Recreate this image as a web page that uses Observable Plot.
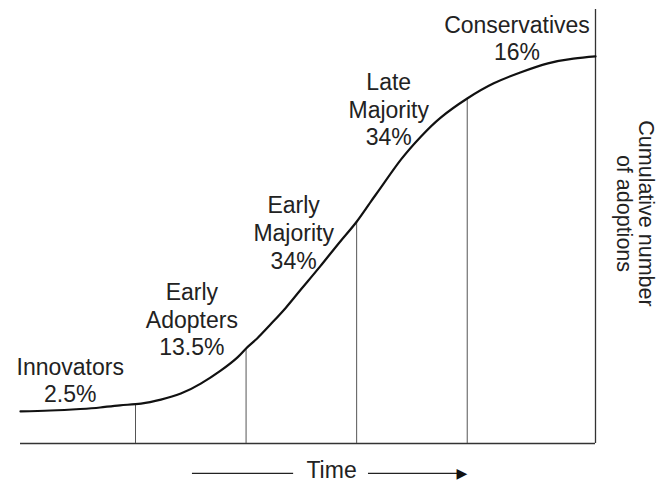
<!DOCTYPE html>
<html>
<head>
<meta charset="utf-8">
<script src="https://cdn.jsdelivr.net/npm/d3@7"></script>
<script src="https://cdn.jsdelivr.net/npm/@observablehq/plot@0.6"></script>
<style>
  html, body { margin: 0; padding: 0; background: #fff; overflow: hidden; }
  svg { display: block; }
</style>
</head>
<body>
<div id="chart"></div>
<script>
// Time axis (arbitrary units, 1 unit = one standard deviation) and cumulative adoptions (% of full axis height)
const timeExtent = [-0.04, 5.16];
const adoptExtent = [0, 100];

// S-curve
const curveTime = [-0.04, 0.23, 0.50, 0.68, 0.86, 1.05, 1.23, 1.41, 1.59, 1.77, 1.92, 2.00, 2.10, 2.22, 2.36, 2.49, 2.67, 2.85, 3.00, 3.13, 3.22, 3.40, 3.58, 3.76, 4.00, 4.24, 4.48, 4.73, 4.96, 5.16];
const curveAdopt = [7.4, 7.6, 7.95, 8.3, 8.8, 9.2, 10.1, 11.5, 13.8, 16.8, 19.8, 21.9, 24.2, 27.4, 31.3, 35.3, 40.8, 46.5, 51.1, 55.8, 59.0, 65.4, 70.7, 75.1, 79.5, 83.0, 85.5, 87.6, 88.7, 89.2];

// Category boundaries (vertical dividers) and their height on the curve
const boundaryTime = [1, 2, 3, 4];
const boundaryAdopt = [9.2, 21.9, 50.9, 79.5];

// Adopter categories and label anchors
const categories = ["Innovators", "Early\nAdopters", "Early\nMajority", "Late\nMajority", "Conservatives"];
const shares = ["2.5%", "13.5%", "34%", "34%", "16%"];
const labelTime = [0.41, 1.51, 2.43, 3.29, 4.45];
const labelAdopt = [9.45, 20.3, 40.3, 68.7, 88.25];

// Time arrow annotation below the axis
const arrowLeft = [1.515, 2.43];
const arrowRight = [3.107, 3.95];
const arrowHeadTime = 4.0;
const arrowAdopt = -6.9;
const timeLabelTime = 2.773;
const timeLabelAdopt = -8.0;

// Right-hand axis title
const axisTitle = "Cumulative number\nof adoptions";
const axisTitleTime = 5.52;
const axisTitleAdopt = 53;

const curve = curveTime.map((t, i) => ({t, v: curveAdopt[i]}));
const bounds = boundaryTime.map((t, i) => ({t, v: boundaryAdopt[i]}));
const labels = categories.map((c, i) => ({text: c + "\n" + shares[i], t: labelTime[i], v: labelAdopt[i]}));

const font = "Liberation Sans, Arial, Helvetica, sans-serif";

const chart = Plot.plot({
  width: 661,
  height: 483,
  marginTop: 9,
  marginBottom: 40,
  marginLeft: 20,
  marginRight: 66,
  style: {fontFamily: font, background: "#fff", color: "#222", overflow: "visible"},
  x: {domain: timeExtent, range: [20, 595], axis: null},
  y: {domain: adoptExtent, range: [443, 9], axis: null},
  marks: [
    Plot.ruleY([adoptExtent[0]], {x1: timeExtent[0], x2: timeExtent[1], stroke: "#333", strokeWidth: 1.3}),
    Plot.ruleX([timeExtent[1]], {y1: adoptExtent[0], y2: adoptExtent[1], stroke: "#333", strokeWidth: 1.3}),
    Plot.ruleX(bounds, {x: "t", y1: 0, y2: "v", stroke: "#555", strokeWidth: 1}),
    Plot.line(curve, {x: "t", y: "v", curve: "natural", stroke: "#111", strokeWidth: 2.2}),
    Plot.text(labels, {x: "t", y: "v", text: "text", lineAnchor: "bottom", lineHeight: 1.2, fontSize: 23, fill: "#222", textAnchor: "middle"}),
    Plot.ruleY([arrowAdopt], {x1: arrowLeft[0], x2: arrowLeft[1], stroke: "#222", strokeWidth: 1.3}),
    Plot.ruleY([arrowAdopt], {x1: arrowRight[0], x2: arrowRight[1], stroke: "#222", strokeWidth: 1.3}),
    Plot.text([arrowHeadTime], {x: d => d, y: arrowAdopt, text: ["\u25B6"], fontSize: 14, fill: "#111", fontFamily: "DejaVu Sans", textAnchor: "end", lineAnchor: "middle"}),
    Plot.text(["Time"], {x: timeLabelTime, y: timeLabelAdopt, text: d => d, fontSize: 23, fill: "#222", lineAnchor: "bottom"}),
    Plot.text([axisTitle], {x: axisTitleTime, y: axisTitleAdopt, text: d => d, rotate: 90, fontSize: 21.5, lineHeight: 1.02, fill: "#222", textAnchor: "middle", lineAnchor: "middle"})
  ]
});
document.getElementById("chart").appendChild(chart);
</script>
</body>
</html>
